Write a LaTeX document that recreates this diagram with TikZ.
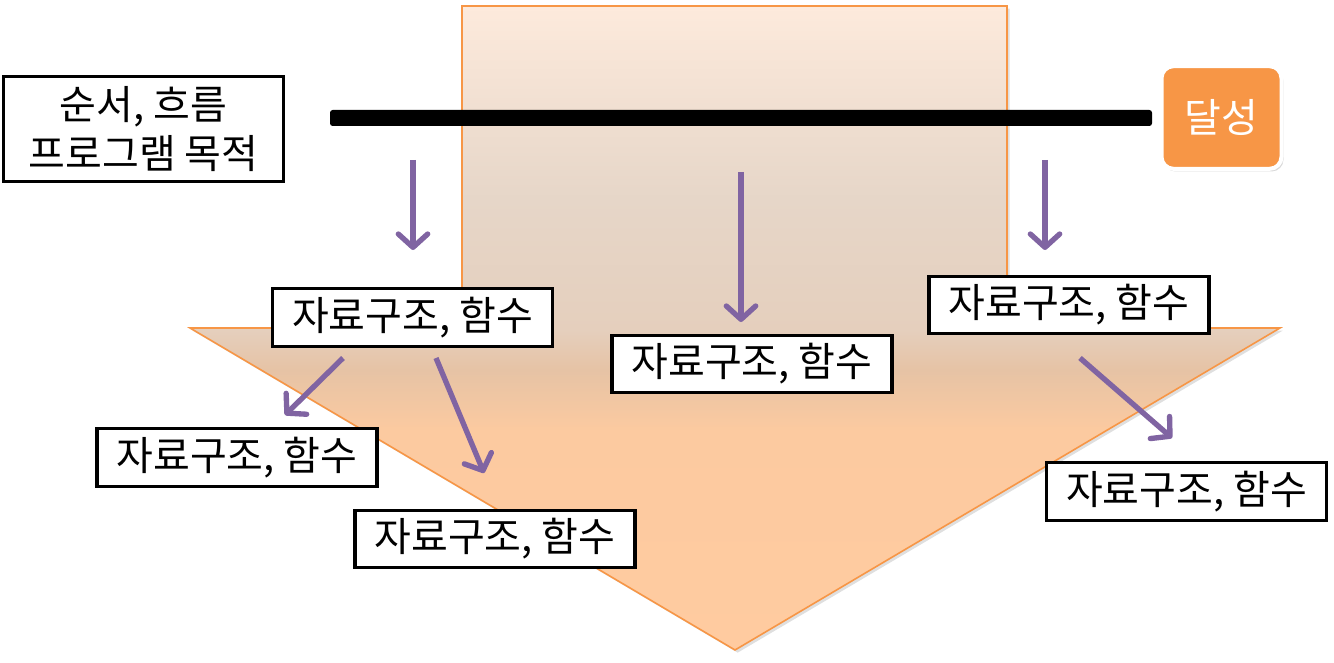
\documentclass[tikz,border=0pt]{standalone}
\usepackage{fontspec}
\setmainfont{Noto Sans CJK KR}
\usetikzlibrary{arrows.meta,shadows}
\definecolor{arrowpurple}{HTML}{8064A2}
\definecolor{accent}{HTML}{F79646}
\definecolor{cA}{HTML}{FFCBA0}
\definecolor{cB}{HTML}{FCCAA0}
\definecolor{cC}{HTML}{E6C3A5}
\definecolor{cD}{HTML}{E5CFBD}
\definecolor{cE}{HTML}{E6D6C8}
\definecolor{cF}{HTML}{FDEADC}
\pgfdeclareverticalshading{bigarrow}{100bp}{color(0bp)=(cA); color(25bp)=(cA); color(42bp)=(cB); color(46.75bp)=(cC); color(49.85bp)=(cD); color(60bp)=(cE); color(75bp)=(cF); color(100bp)=(cF)}
\tikzset{
  textbox/.style={draw=black, line width=2.3pt, fill=white, minimum width=210pt, minimum height=43pt, inner sep=0pt, font=\fontsize{30}{34}\selectfont},
  flowarrow/.style={draw=arrowpurple, line width=4pt, -{Straight Barb[length=10pt,width=22pt,round]}},
}
\begin{document}
\begin{tikzpicture}[x=0.75pt,y=-0.75pt]
\useasboundingbox (0,0) rectangle (1334,663);
% big arrow
\path[draw=accent, line width=1.2pt, shading=bigarrow, drop shadow={opacity=0.25, shadow xshift=2pt, shadow yshift=-2pt}]
  (462,6) -- (1007,6) -- (1007,328) -- (1280,328) -- (735,650) -- (190,328) -- (462,328) -- cycle;
% black bar
\fill[rounded corners=2pt] (330,110) rectangle (1152,126);
% top-left box
\node[textbox, minimum height=79pt, align=center, font=\fontsize{30}{37}\selectfont] (goal) at (143.5,129) {순서, 흐름\\프로그램 목적};
% achievement box
\node[draw=white, line width=3pt, fill=accent, rounded corners=9pt, minimum width=90pt, minimum height=77pt, inner sep=0pt, text=white, font=\fontsize{30}{34}\selectfont, drop shadow={opacity=0.3, shadow xshift=1.5pt, shadow yshift=-2pt}] (done) at (1221.5,117.5) {달성};
% data structure boxes
\node[textbox] (b1) at (412.5,317.5) {자료구조, 함수};
\node[textbox] (b2) at (752,364) {자료구조, 함수};
\node[textbox] (b3) at (1069,305) {자료구조, 함수};
\node[textbox] (c1) at (237,457.5) {자료구조, 함수};
\node[textbox] (c2) at (495,539) {자료구조, 함수};
\node[textbox] (c3) at (1186.5,491.5) {자료구조, 함수};
% arrow endpoints
\coordinate (a1s) at (413,160); \coordinate (a1e) at (413,250);
\coordinate (a2s) at (741,172); \coordinate (a2e) at (741,322);
\coordinate (a3s) at (1045,160); \coordinate (a3e) at (1045,250);
\coordinate (a4s) at (343,358); \coordinate (a4e) at (285,415);
\coordinate (a5s) at (436,358); \coordinate (a5e) at (484,473);
\coordinate (a6s) at (1080,358); \coordinate (a6e) at (1172,438);
\draw[flowarrow] (a1s) -- (a1e);
\draw[flowarrow] (a2s) -- (a2e);
\draw[flowarrow] (a3s) -- (a3e);
\draw[flowarrow] (a4s) -- (a4e);
\draw[flowarrow] (a5s) -- (a5e);
\draw[flowarrow] (a6s) -- (a6e);
\end{tikzpicture}
\end{document}
